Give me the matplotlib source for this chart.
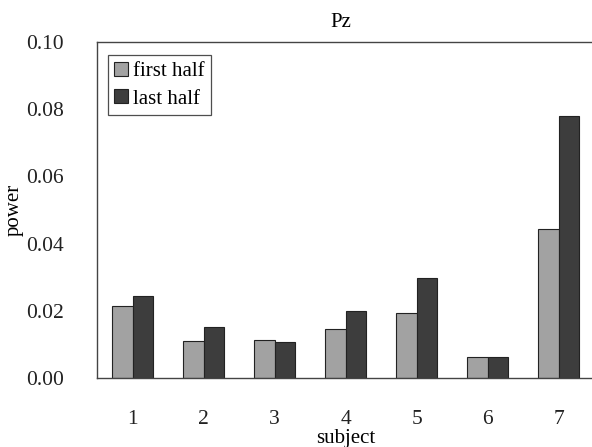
import numpy as np
from matplotlib import pyplot as plt

plt.rcParams['font.family'] = ['Liberation Serif', 'DejaVu Serif']

subjects = ['1', '2', '3', '4', '5', '6', '7']
first_half = [0.0215, 0.0110, 0.0114, 0.0147, 0.0193, 0.0062, 0.0443]
last_half = [0.0244, 0.0152, 0.0108, 0.0200, 0.0297, 0.0062, 0.0780]
yticks = [0.00, 0.02, 0.04, 0.06, 0.08, 0.10]

fig = plt.figure(figsize=(5.92, 4.47), dpi=100)
ax = fig.add_axes([0.164, 0.154, 0.84, 0.752])

x = np.arange(1, len(subjects) + 1)
w = 0.29
ax.bar(x - w / 2, first_half, w, color='#a2a2a2', edgecolor='#222222', linewidth=0.8, label='first half')
ax.bar(x + w / 2, last_half, w, color='#3d3d3d', edgecolor='#222222', linewidth=0.8, label='last half')

ax.set_xlim(0.5, 7.5)
ax.set_ylim(0, 0.10)
ax.set_xticks(x)
ax.set_xticklabels(subjects)
ax.set_yticks(yticks)
ax.set_yticklabels(['%.2f' % t for t in yticks])
ax.tick_params(length=0, labelsize=15.5, colors='#222222')
ax.tick_params(axis='y', pad=24)
ax.tick_params(axis='x', pad=23)

for s in ['left', 'bottom', 'top']:
    ax.spines[s].set_color('#444444')
    ax.spines[s].set_linewidth(1.0)
ax.spines['right'].set_visible(False)

ax.set_title('Pz', fontsize=15, pad=11, x=0.49)
ax.set_xlabel('subject', fontsize=15, labelpad=0)
ax.set_ylabel('power', fontsize=15)
ax.yaxis.set_label_coords(-0.147, 0.5)

leg = ax.legend(loc='upper left', bbox_to_anchor=(0.022, 0.96), fontsize=15, frameon=True, fancybox=False,
                edgecolor='#222222', handlelength=0.65, handleheight=0.65, handletextpad=0.25,
                borderpad=0.3, labelspacing=0.4, borderaxespad=0)
leg.get_frame().set_linewidth(0.9)

fig.savefig('out.png', dpi=100)
